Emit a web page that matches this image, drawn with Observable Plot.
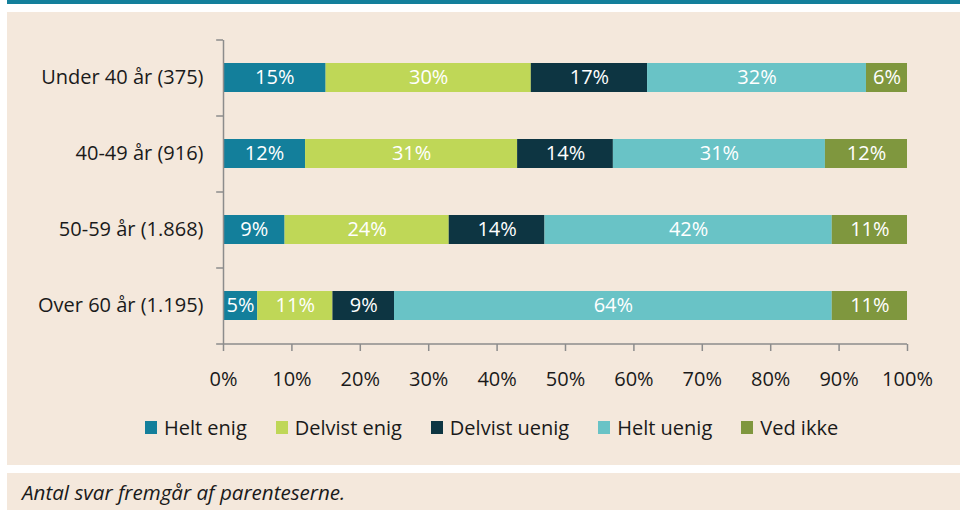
<!DOCTYPE html>
<html>
<head>
<meta charset="utf-8">
<script src="https://cdn.jsdelivr.net/npm/d3@7"></script>
<script src="https://cdn.jsdelivr.net/npm/@observablehq/plot@0.6"></script>
<style>
  body { margin:0; background:#fff; width:960px; height:510px; overflow:hidden; position:relative; font-family:"Open Sans", sans-serif; }
  #topline { position:absolute; left:7px; top:0; width:953px; height:4px; background:#137f9b; }
  #panel { position:absolute; left:7px; top:12px; width:953px; height:453px; background:#f4e8dc; }
  #legend { position:absolute; left:138px; top:390px; height:50px; display:flex; align-items:center; gap:29px; font-size:20px; color:#1a1a1a; }
  .item { display:flex; align-items:center; }
  .sw { width:12px; height:13px; margin-right:7px; }
  #caption { position:absolute; left:7px; top:473px; width:953px; height:37px; background:#f4e8dc; font-style:italic; font-size:20.6px; color:#1a1a1a; }
  #caption span { position:absolute; left:15px; top:5px; }
</style>
</head>
<body>
<div id="topline"></div>
<div id="panel"><div id="chart"></div><div id="legend"></div></div>
<div id="caption"><span>Antal svar fremgår af parenteserne.</span></div>
<script>
const categories = ["Under 40 år (375)", "40-49 år (916)", "50-59 år (1.868)", "Over 60 år (1.195)"];
const answers = ["Helt enig", "Delvist enig", "Delvist uenig", "Helt uenig", "Ved ikke"];
const colors = ["#137f9b", "#bfd757", "#0d3542", "#69c3c6", "#7f973e"];
const heltEnig     = [15, 12, 9, 5];
const delvistEnig  = [30, 31, 24, 11];
const delvistUenig = [17, 14, 14, 9];
const heltUenig    = [32, 31, 42, 64];
const vedIkke      = [6, 12, 11, 11];
const xTicks = [0, 10, 20, 30, 40, 50, 60, 70, 80, 90, 100];

const series = [heltEnig, delvistEnig, delvistUenig, heltUenig, vedIkke];
const data = [];
categories.forEach((g, i) => {
  answers.forEach((a, j) => data.push({group: g, answer: a, value: series[j][i]}));
});

const W = 953, H = 390, mT = 28, mB = 58, mL = 216, mR = 53;
const step = (H - mT - mB) / categories.length;
const gray = "#8c8c8c";

const chart = Plot.plot({
  width: W, height: H,
  marginTop: mT, marginBottom: mB, marginLeft: mL, marginRight: mR,
  style: {fontFamily: "'Open Sans', sans-serif", fontSize: "20px", background: "transparent", color: "#1a1a1a"},
  x: {domain: [0, 100], label: null},
  y: {domain: categories, paddingInner: 0.615, paddingOuter: 0.3075, label: null},
  color: {domain: answers, range: colors},
  marks: [
    Plot.barX(data, Plot.stackX({y: "group", x: "value", fill: "answer"})),
    Plot.text(data, Plot.stackX({y: "group", x: "value", text: d => d.value + "%", fill: "white", fontSize: 20})),
    Plot.ruleX([0], {stroke: gray, strokeWidth: 1.5}),
    Plot.ruleY(categories, {y: d => d, x1: -1, x2: 0, dy: -step / 2, stroke: gray, strokeWidth: 1.5}),
    Plot.ruleY([categories[categories.length - 1]], {y: d => d, x1: -1, x2: 100, dy: step / 2, stroke: gray, strokeWidth: 1.5}),
    Plot.axisX({ticks: xTicks, tickSize: 7, text: null, stroke: gray, strokeWidth: 1.5}),
    Plot.axisX({ticks: xTicks, tickSize: 0, tickPadding: 27, tickFormat: d => d + "%", fill: "#1a1a1a", label: null}),
    Plot.axisY({tickSize: 0, tickPadding: 20, fill: "#1a1a1a", label: null})
  ]
});
document.getElementById("chart").appendChild(chart);

const legend = document.getElementById("legend");
answers.forEach((a, i) => {
  const it = document.createElement("div");
  it.className = "item";
  const sw = document.createElement("div");
  sw.className = "sw";
  sw.style.background = colors[i];
  const tx = document.createElement("span");
  tx.textContent = a;
  it.appendChild(sw); it.appendChild(tx);
  legend.appendChild(it);
});
</script>
</body>
</html>
